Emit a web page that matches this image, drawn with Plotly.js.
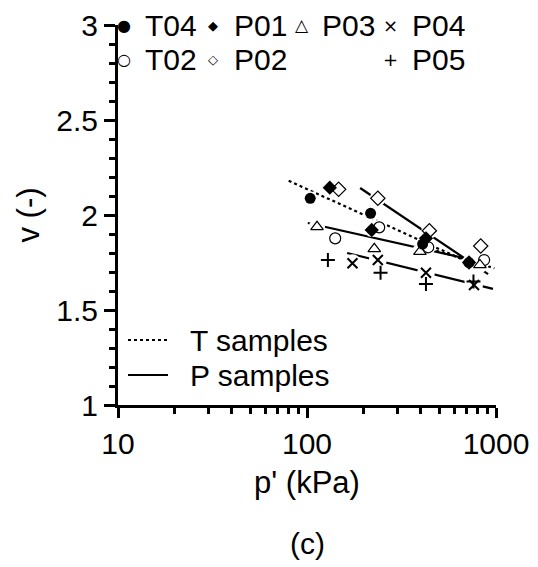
<!DOCTYPE html>
<html>
<head>
<meta charset="utf-8">
<script src="https://cdn.plot.ly/plotly-3.0.1.min.js"></script>
<style>html,body{margin:0;padding:0;background:#fff;}#chart{width:538px;height:567px;}</style>
</head>
<body>
<div id="chart"></div>
<script>
// ---- data ----
const T04_p = [104, 217, 409, 719];
const T04_v = [2.088, 2.009, 1.847, 1.749];
const T02_p = [141, 241, 438, 865];
const T02_v = [1.877, 1.935, 1.830, 1.763];
const P01_p = [132, 220, 426, 720];
const P01_v = [2.144, 1.921, 1.877, 1.750];
const P02_p = [147, 237, 444, 830];
const P02_v = [2.135, 2.088, 1.917, 1.837];
const P03_p = [113, 227, 396, 822];
const P03_v = [1.938, 1.822, 1.807, 1.737];
const P04_p = [174, 237, 426, 765];
const P04_v = [1.746, 1.763, 1.696, 1.632];
const P05_p = [129, 245, 426, 760];
const P05_v = [1.763, 1.696, 1.637, 1.650];

// compression lines drawn in the figure (end points)
const lineT04_p = [80, 720];   const lineT04_v = [2.180, 1.750];
const lineT02_p = [420, 980];  const lineT02_v = [1.830, 1.720];
const lineA_p = [191, 908];    const lineA_v = [2.142, 1.689];
const lineB_p = [101, 703];    const lineB_v = [1.958, 1.770];
const lineC_p = [163, 964];    const lineC_v = [1.800, 1.611];

const xTickVals = [10, 100, 1000];
const xTickText = ['10', '100', '1000'];
const yTickVals = [1, 1.5, 2, 2.5, 3];
const yTickText = ['1', '1.5', '2', '2.5', '3'];

// ---- layout constants ----
const L = 118, T = 25, W = 378, H = 380;
const FONT = 'Liberation Sans, Arial, sans-serif';
function fx(x){ return (x - L) / W; }
function fy(y){ return (T + H - y) / H; }

function lineTrace(p, v, dash){
  return {x:p, y:v, type:'scatter', mode:'lines', hoverinfo:'skip',
          line:{color:'#000', width:2.2, dash:dash}, showlegend:false};
}
function haloTrace(p, v, size){
  return {x:p, y:v, type:'scatter', mode:'markers', hoverinfo:'skip',
          marker:{symbol:'circle', size:size, color:'#fff', line:{width:0}}, showlegend:false};
}
function markTrace(p, v, symbol, size, fill, lw){
  return {x:p, y:v, type:'scatter', mode:'markers',
          marker:{symbol:symbol, size:size, color:fill, line:{color:'#000', width:lw}}, showlegend:false};
}

const traces = [
  lineTrace(lineT04_p, lineT04_v, 'dot'),
  lineTrace(lineT02_p, lineT02_v, 'dot'),
  lineTrace(lineA_p, lineA_v, 'solid'),
  lineTrace(lineB_p, lineB_v, 'solid'),
  lineTrace(lineC_p, lineC_v, 'solid'),
  haloTrace(T04_p, T04_v, 14),
  haloTrace(T02_p, T02_v, 15),
  haloTrace(P01_p, P01_v, 14),
  haloTrace(P02_p, P02_v, 16),
  haloTrace(P03_p, P03_v, 16),
  haloTrace(P04_p, P04_v, 18),
  haloTrace(P05_p, P05_v, 18),
  markTrace(T02_p, T02_v, 'circle', 11, '#fff', 1.2),
  markTrace(P02_p, P02_v, 'diamond', 11, '#fff', 1.2),
  markTrace(P03_p, P03_v, 'triangle-up', 11, '#fff', 1.2),
  markTrace(P04_p, P04_v, 'x-thin', 10, '#000', 2),
  markTrace(P05_p, P05_v, 'cross-thin', 10, '#000', 2),
  markTrace(T04_p, T04_v, 'circle', 11, '#000', 0),
  markTrace(P01_p, P01_v, 'diamond', 11, '#000', 0)
];

const minorX = [20,30,40,50,60,70,80,90,200,300,400,500,600,700,800,900];

// legend (drawn as text annotations + line shapes)
const legSymbols = [
  {s:'●', x:124, y:25, size:16}, {s:'◆', x:213, y:25, size:13},
  {s:'△', x:302, y:25, size:17}, {s:'×', x:390, y:25, size:18},
  {s:'○', x:124, y:60, size:16}, {s:'◇', x:213, y:60, size:13},
  {s:'+', x:390, y:60, size:18}
];
const legTexts = [
  {t:'T04', x:143, y:25}, {t:'P01', x:232, y:25}, {t:'P03', x:320, y:25}, {t:'P04', x:410, y:25},
  {t:'T02', x:143, y:60}, {t:'P02', x:232, y:60}, {t:'P05', x:410, y:60},
  {t:'T samples', x:188, y:340}, {t:'P samples', x:188, y:375}
];
const annotations = [];
legSymbols.forEach(o => annotations.push({xref:'paper', yref:'paper', x:fx(o.x), y:fy(o.y),
  xanchor:'center', yanchor:'middle', showarrow:false, text:o.s,
  font:{family:'DejaVu Sans', size:o.size, color:'#000'}}));
legTexts.forEach(o => annotations.push({xref:'paper', yref:'paper', x:fx(o.x), y:fy(o.y),
  xanchor:'left', yanchor:'middle', showarrow:false, text:o.t,
  font:{family:FONT, size:30, color:'#000'}}));
annotations.push({xref:'paper', yref:'paper', x:0.5, y:fy(543), xanchor:'center', yanchor:'middle',
  showarrow:false, text:'(c)', font:{family:FONT, size:30, color:'#000'}});

const shapes = [
  {type:'line', xref:'paper', yref:'paper', x0:fx(128), x1:fx(168), y0:fy(340), y1:fy(340),
   line:{color:'#000', width:2, dash:'dot'}},
  {type:'line', xref:'paper', yref:'paper', x0:fx(128), x1:fx(168), y0:fy(375), y1:fy(375),
   line:{color:'#000', width:2.2}}
];

const layout = {
  width:538, height:567,
  margin:{l:L, r:538-L-W, t:T, b:567-T-H},
  paper_bgcolor:'#fff', plot_bgcolor:'#fff',
  showlegend:false,
  font:{family:FONT, size:30, color:'#000'},
  xaxis:{type:'log', range:[1,3], tickmode:'array', tickvals:xTickVals, ticktext:xTickText,
    ticks:'outside', ticklen:10, tickwidth:3, tickcolor:'#000',
    showline:true, linewidth:3, linecolor:'#000', showgrid:false, zeroline:false,
    minor:{tickmode:'array', tickvals:minorX, ticks:'outside', ticklen:6, tickwidth:3, tickcolor:'#000', showgrid:false},
    tickfont:{family:FONT, size:30, color:'#000'},
    title:{text:"p' (kPa)", font:{family:FONT, size:31, color:'#000'}, standoff:13}},
  yaxis:{range:[1,3], tickmode:'array', tickvals:yTickVals, ticktext:yTickText,
    ticks:'outside', ticklen:11, tickwidth:3, tickcolor:'#000',
    showline:true, linewidth:3, linecolor:'#000', showgrid:false, zeroline:false,
    minor:{dtick:0.1, ticks:'outside', ticklen:6, tickwidth:3, tickcolor:'#000', showgrid:false},
    tickfont:{family:FONT, size:30, color:'#000'},
    title:{text:'v (-)', font:{family:FONT, size:31, color:'#000'}, standoff:8}},
  annotations:annotations,
  shapes:shapes
};

Plotly.newPlot('chart', traces, layout, {staticPlot:true, displayModeBar:false});
</script>
</body>
</html>
